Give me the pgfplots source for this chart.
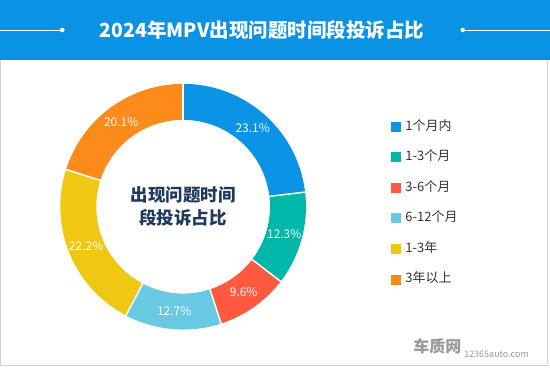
\documentclass[border=0pt]{standalone}
\usepackage{pgfplots}
\pgfplotsset{compat=1.18}
\usepackage{pgfplotstable}
\usepackage{fontspec}
\setmainfont{Noto Sans CJK SC}
\definecolor{barblue}{HTML}{0A93E4}
\definecolor{slice0}{HTML}{0B94E5}
\definecolor{slice1}{HTML}{00B8A9}
\definecolor{slice2}{HTML}{FF5A40}
\definecolor{slice3}{HTML}{67C9E2}
\definecolor{slice4}{HTML}{F0C712}
\definecolor{slice5}{HTML}{FD8B1C}
\definecolor{navy}{HTML}{1F3A5E}
\definecolor{legtext}{HTML}{333333}
\definecolor{wmgray}{HTML}{999999}
\newcommand\pctfont{\fontsize{12}{14}\selectfont}

\pgfplotstableread{
idx value
0 23.1
1 12.3
2 9.6
3 12.7
4 22.2
5 20.1
}\donutdata

\begin{document}
\begin{tikzpicture}
\begin{axis}[
  width=550pt, height=368pt, scale only axis,
  xmin=0, xmax=550, ymin=0, ymax=368,
  axis lines=none, clip=false,
  legend style={draw=none, fill=none, inner sep=0pt,
    at={(axis cs:391,248)}, anchor=north west,
    row sep=17.6pt, column sep=5pt,
    nodes={inner sep=0pt, text height=10pt, text depth=3pt},
    font=\fontsize{13}{15}\selectfont, text=legtext},
  legend cell align=left,
]
\fill[white] (axis cs:0,0) rectangle (axis cs:550,368);
\fill[barblue] (axis cs:0,308) rectangle (axis cs:550,368);
\draw[white, line width=0.8pt] (axis cs:0,338) -- (axis cs:62,338);
\fill[white] (axis cs:62,338) circle (2.3pt);
\draw[white, line width=0.8pt] (axis cs:463,338) -- (axis cs:550,338);
\fill[white] (axis cs:463,338) circle (2.3pt);
\node[white, font=\bfseries\fontsize{19.5}{22}\selectfont] at (axis cs:262,338) {2024年MPV出现问题时间段投诉占比};
\draw[black!18, line width=1pt] (axis cs:0.5,308) -- (axis cs:0.5,2) -- (axis cs:547.5,2) -- (axis cs:547.5,308);

% donut arcs
\def\cum{0}
\pgfplotsforeachungrouped \i in {0,...,5}{%
  \pgfplotstablegetelem{\i}{value}\of\donutdata
  \let\v\pgfplotsretval
  \pgfmathsetmacro\a{90-3.6*\cum}%
  \pgfmathsetmacro\b{90-3.6*(\cum+\v)}%
  \pgfmathsetmacro\m{(\a+\b)/2}%
  \pgfmathsetmacro\lx{183+105*cos(\m)}%
  \pgfmathsetmacro\ly{161+105*sin(\m)}%
  \pgfmathsetmacro\newcum{\cum+\v}%
  \edef\doplot{\noexpand\addplot[forget plot, draw=slice\i, line width=36pt, line cap=butt, domain=\b:\a, samples=80] ({183+105*cos(x)},{161+105*sin(x)});}%
  \doplot
  \edef\donode{\noexpand\node[white, font=\noexpand\pctfont] at (axis cs:\lx,\ly) {\v\noexpand\%};}%
  \donode
  \global\let\cum\newcum
}
% separators
\def\cum{0}
\pgfplotsforeachungrouped \i in {0,...,5}{%
  \pgfplotstablegetelem{\i}{value}\of\donutdata
  \let\v\pgfplotsretval
  \pgfmathsetmacro\a{90-3.6*\cum}%
  \pgfmathsetmacro\newcum{\cum+\v}%
  \edef\doplot{\noexpand\addplot[forget plot, draw=white, line width=1.5pt, domain=86:124, samples=2] ({183+x*cos(\a)},{161+x*sin(\a)});}%
  \doplot
  \global\let\cum\newcum
}

\node[align=center, text=navy, font=\bfseries\fontsize{17.5}{23}\selectfont] at (axis cs:183,161.5) {出现问题时间\\段投诉占比};

\addlegendimage{legend image code/.code={\fill[slice0] (0pt,-4.5pt) rectangle (9pt,4.5pt);}}
\addlegendentry{1个月内}
\addlegendimage{legend image code/.code={\fill[slice1] (0pt,-4.5pt) rectangle (9pt,4.5pt);}}
\addlegendentry{1-3个月}
\addlegendimage{legend image code/.code={\fill[slice2] (0pt,-4.5pt) rectangle (9pt,4.5pt);}}
\addlegendentry{3-6个月}
\addlegendimage{legend image code/.code={\fill[slice3] (0pt,-4.5pt) rectangle (9pt,4.5pt);}}
\addlegendentry{6-12个月}
\addlegendimage{legend image code/.code={\fill[slice4] (0pt,-4.5pt) rectangle (9pt,4.5pt);}}
\addlegendentry{1-3年}
\addlegendimage{legend image code/.code={\fill[slice5] (0pt,-4.5pt) rectangle (9pt,4.5pt);}}
\addlegendentry{3年以上}

\node[anchor=west, text=wmgray, font=\bfseries\fontsize{16}{18}\selectfont] at (axis cs:410,21) {车质网};
\node[anchor=west, text=wmgray, font=\fontsize{9}{11}\selectfont] at (axis cs:461,13.5) {12365auto.com};
\end{axis}
\end{tikzpicture}
\end{document}
